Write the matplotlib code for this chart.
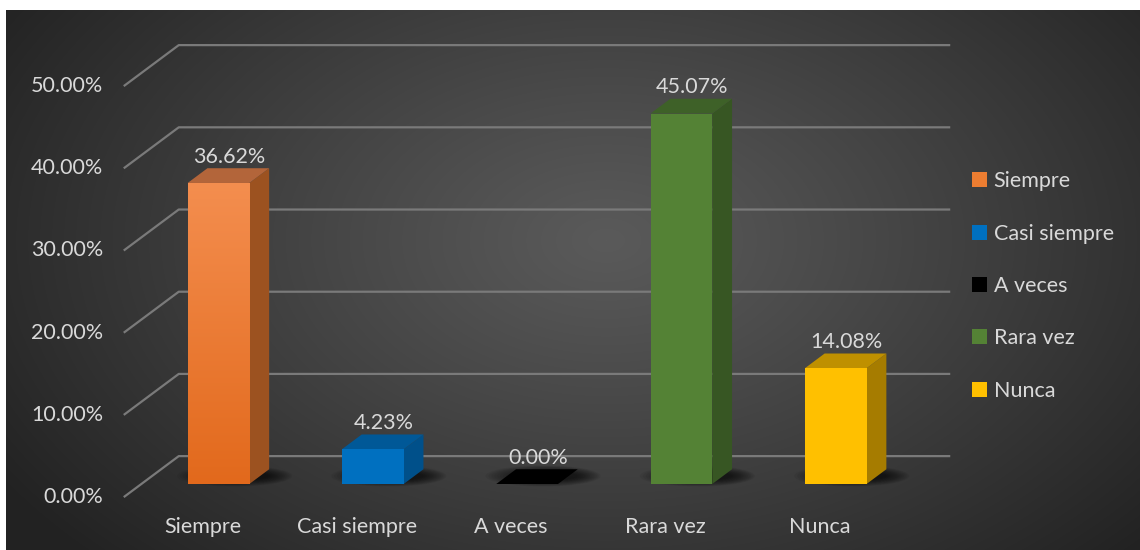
import numpy as np
import matplotlib
matplotlib.use("Agg")
import matplotlib.pyplot as plt
from matplotlib.transforms import Affine2D, IdentityTransform
from matplotlib.patches import Polygon, Ellipse, Patch
from matplotlib.colors import LinearSegmentedColormap

# ---------------- data ----------------
categories = ["Siempre", "Casi siempre", "A veces", "Rara vez", "Nunca"]
values = [36.62, 4.23, 0.00, 45.07, 14.08]
value_labels = ["36.62%", "4.23%", "0.00%", "45.07%", "14.08%"]
yticks = [0, 10, 20, 30, 40, 50]
ytick_labels = ["0.00%", "10.00%", "20.00%", "30.00%", "40.00%", "50.00%"]
front_colors = ["#ED7D31", "#0070C0", "#000000", "#548235", "#FFC000"]
side_colors = ["#9C5220", "#00508A", "#000000", "#375623", "#A67C00"]
top_colors = ["#B3653A", "#005897", "#000000", "#3E6128", "#BF9000"]

TEXT = "#D9D9D9"
FONT = "Lato"
FS = 15.5

W, H, DPI = 1140, 550, 100
fig = plt.figure(figsize=(W / DPI, H / DPI), dpi=DPI, facecolor="white")

# ---------------- background panel (radial gradient) ----------------
bg = fig.add_axes([6 / W, 0, (W - 6) / W, (H - 10) / H])
bg.axis("off")
ph, pw = 540, 1134
yy, xx = np.mgrid[0:ph, 0:pw]
r = np.sqrt(((xx - 600) / 720.0) ** 2 + ((yy - 230) / 460.0) ** 2)
r = np.clip(r, 0, 1)
c_in, c_out = 0x5A / 255.0, 0x22 / 255.0
g = c_in + (c_out - c_in) * r ** 1.1
img = np.dstack([g, g, g])
bg.imshow(img, extent=[0, 1, 0, 1], aspect="auto", interpolation="bilinear")
bg.set_xlim(0, 1)
bg.set_ylim(0, 1)

# ---------------- main axes (bar front plane in data coords) ----------------
ax = fig.add_axes([0, 0, 1, 1])
ax.patch.set_alpha(0)
ax.axis("off")
x0px, dxpx = 218.5, 154.3
y0px, pxper = 66.0, 8.22
XL = (-x0px / dxpx, (W - x0px) / dxpx)
YL = (-y0px / pxper, (H - y0px) / pxper)
ax.set_xlim(*XL)
ax.set_ylim(*YL)

D = np.array([55.0, 41.0])        # full floor depth in pixels
T_FLOOR, T_BACK, T_WALL = -0.32, 0.36, 0.68
BW = 0.4
ID = IdentityTransform()


def P(x, y, t=0.0):
    return ax.transData.transform((x, y)) + t * D


def shifted(dx, dy):
    return ax.transData + Affine2D().translate(dx, dy)


n = len(categories)
xs = np.arange(n)
left_edge, right_edge = -0.5, n - 0.5

# gridlines: diagonal on side wall + horizontal on back wall
for v in yticks:
    a = P(left_edge, v, T_FLOOR)
    b = P(left_edge, v, T_WALL)
    c = P(right_edge, v, T_WALL)
    ax.plot([a[0], b[0], c[0]], [a[1], b[1], c[1]], transform=ID,
            color="#7A7A7A", lw=1.6, solid_capstyle="butt", zorder=1, clip_on=False)

# y tick labels
for v, lab in zip(yticks, ytick_labels):
    ax.text(left_edge, v, lab, transform=shifted(-17.6 - 20.5, -13.1),
            ha="right", va="center", color=TEXT, fontsize=FS, family=FONT)

# shadows
for i, v in enumerate(values):
    cx, cy = P(xs[i], 0, 0) + np.array([16.0, 8.0])
    for k in range(14):
        f = 1.0 - k / 14.0
        ax.add_patch(Ellipse((cx + 8 * (1 - f), cy), 50 + 65 * f, 7 + 14 * f,
                             transform=ID, facecolor="black", edgecolor="none",
                             alpha=0.06, zorder=2))

# bars
for i, v in enumerate(values):
    x = xs[i]
    side = [P(x + BW / 2, 0, 0), P(x + BW / 2, v, 0),
            P(x + BW / 2, v, T_BACK), P(x + BW / 2, 0, T_BACK)]
    ax.add_patch(Polygon(side, closed=True, transform=ID,
                         facecolor=side_colors[i], edgecolor="none", zorder=3))
    top = [P(x - BW / 2, v, 0), P(x + BW / 2, v, 0),
           P(x + BW / 2, v, T_BACK), P(x - BW / 2, v, T_BACK)]
    ax.add_patch(Polygon(top, closed=True, transform=ID,
                         facecolor=top_colors[i], edgecolor="none", zorder=3))
    bars = ax.bar(x, v, width=BW, color=front_colors[i], edgecolor="none", zorder=4)
    if i == 0 and v > 0:
        grad = np.linspace(0, 1, 256).reshape(-1, 1)
        cmap = LinearSegmentedColormap.from_list("o", ["#E2691C", "#F48E4F"])
        im = ax.imshow(grad, extent=[x - BW / 2, x + BW / 2, 0, v], origin="lower",
                       cmap=cmap, aspect="auto", zorder=4.5)
        im.set_clip_path(bars[0])

# value labels
for i, v in enumerate(values):
    ax.text(xs[i], v, value_labels[i], transform=shifted(11, 0.36 * 41 + 11.5),
            ha="center", va="center", color=TEXT, fontsize=FS, family=FONT, zorder=6)

# category labels
for i, cat in enumerate(categories):
    ax.text(xs[i], 0, cat, transform=shifted(-16, -43),
            ha="center", va="center", color=TEXT, fontsize=FS, family=FONT)

ax.set_xlim(*XL)
ax.set_ylim(*YL)

# legend
handles = [Patch(facecolor=c, edgecolor="none") for c in front_colors]
fig.legend(handles, categories, loc="center left",
           bbox_to_anchor=(972 / W, 264 / H), frameon=False,
           prop={"family": FONT, "size": FS}, labelcolor=TEXT,
           handlelength=0.7, handleheight=0.7, handletextpad=0.3,
           labelspacing=1.5, borderpad=0, borderaxespad=0)

fig.savefig("out.png", dpi=DPI, facecolor="white")
